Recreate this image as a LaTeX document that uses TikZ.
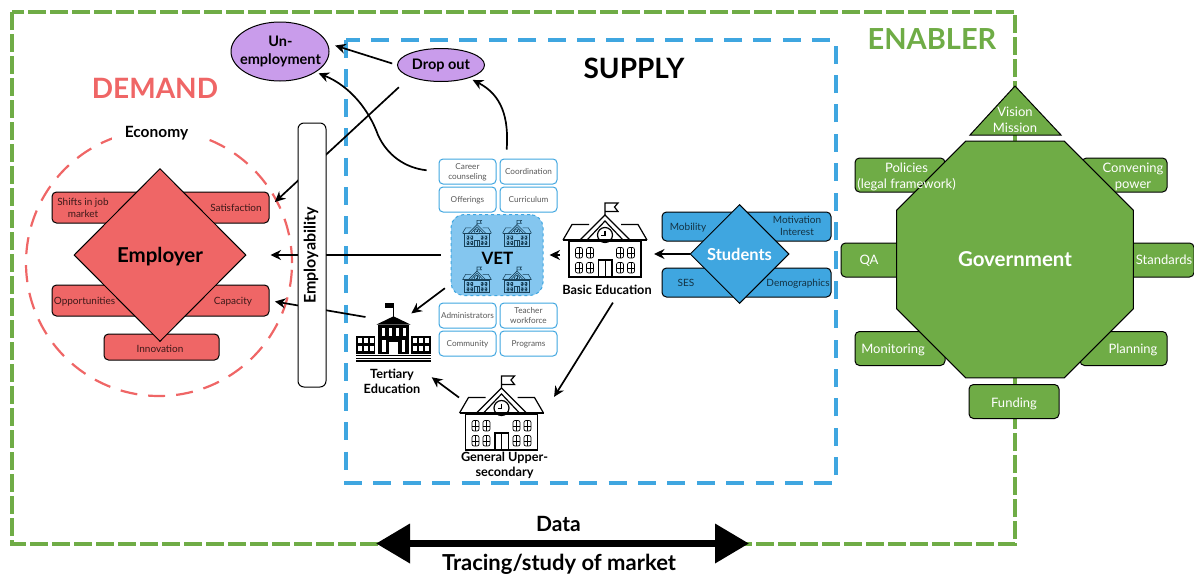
\documentclass[tikz,border=0pt]{standalone}
\usepackage{fontspec}
\setmainfont{Lato}
\usepackage{tikz}
\usetikzlibrary{arrows.meta}
\usetikzlibrary{positioning}
\usetikzlibrary{shapes.geometric}

\definecolor{enablegreen}{HTML}{6FAC46}
\definecolor{supplyblue}{HTML}{3FA6E0}
\definecolor{vetblue}{HTML}{84C6EF}
\definecolor{demandred}{HTML}{EF6666}
\definecolor{outcomepurple}{HTML}{C99CEB}
\newcommand{\fsize}[1]{\fontsize{#1}{#1}\selectfont\setlength{\baselineskip}{1.2\baselineskip}}

\tikzset{
    flow/.style={-{Stealth[length=10.5pt,width=10pt]},line width=1.7pt},
    bar/.style={rectangle,rounded corners=4.5pt,draw=black,line width=1pt,inner sep=0pt,outer sep=0pt},
    redbar/.style={bar,fill=demandred},
    bluebar/.style={bar,fill=supplyblue},
    greenbar/.style={bar,fill=enablegreen},
    redtext/.style={text=black!75!demandred,font=\fsize{10},align=center,text depth=0pt},
    bluetext/.style={text=black!70!supplyblue,font=\fsize{10},align=center,text depth=0pt},
    greentext/.style={text=white,font=\fsize{13},align=center,text depth=0pt},
    smallbox/.style={rectangle,rounded corners=4pt,draw=supplyblue,line width=1pt,fill=white,
        minimum width=57pt,minimum height=25pt,inner sep=0pt,text=black!65,font=\fsize{8.2},align=center,text depth=0pt},
    icon/.style={rectangle,inner sep=0pt,outer sep=0pt},
    schoollabel/.style={font=\bfseries\fsize{12.7},align=center,inner sep=0pt},
    outcome/.style={ellipse,draw=black,line width=1pt,fill=outcomepurple,inner sep=-14pt},
    window line/.style={line width=0.7pt},
    school/.pic={
        \draw[pic actions] (-36,0) rectangle (36,-36);
        \draw[pic actions] (-42,-37) -- (42,-37);
        \draw[pic actions] (-42,-37) -- (-33,-52.5) -- (-16,-52.5);
        \draw[pic actions] (42,-37) -- (33,-52.5) -- (16,-52.5);
        \draw[pic actions] (-25,-37) -- (0,-62) -- (25,-37);
        \draw[pic actions] (-18,-37) -- (0,-56) -- (18,-37);
        \draw[pic actions] (0,-42) circle (7.5);
        \draw[pic actions] (0,-46.5) -- (0,-41.5) -- (-4,-41.5);
        \draw[pic actions] (0,-62) -- (0,-74) -- (13,-74) -- (9.5,-70) -- (13,-65.5) -- (0,-65.5);
        \draw[pic actions] (-6.5,0) rectangle (7,-17);
        \draw[pic actions] (0.25,0) -- (0.25,-17);
        \foreach \wx in {-26,-15,15,26}{
            \foreach \wy in {-4,-19}{
                \draw[pic actions,window line,rounded corners=2] (\wx-3.5,\wy) rectangle (\wx+3.5,\wy-10.5);
                \draw[pic actions,window line] (\wx,\wy) -- (\wx,\wy-10.5) (\wx-3.5,\wy-5) -- (\wx+3.5,\wy-5);
            }
        }
    },
    campus/.pic={
        \fill (-15.7,-10) rectangle (15.3,-38.7);
        \fill (-17,-39.5) -- (0,-47.7) -- (17,-39.5) -- cycle;
        \draw[line width=1pt] (0,-47) -- (0,-61);
        \fill (-8.5,-61) -- (0,-61) -- (0,-56) -- (-8.5,-56) -- cycle;
        \fill (-37.3,-10) rectangle (-18.3,-28.3);
        \fill (17.7,-10) rectangle (37.3,-28.3);
        \foreach \barY/\barH in {-7.8/1.2,-4.8/1.4,-1.8/1.8}{
            \fill (-37.3,\barY) rectangle (37.3,\barY-\barH);
        }
        \foreach \wingx in {-35.5,-29.5,-23.5,19.5,25.5,31.5}{
            \foreach \wingy in {-13,-21}{
                \fill[white] (\wingx,\wingy) rectangle (\wingx+4,\wingy-5);
            }
        }
        \foreach \winx in {-11.5,-4.5,2.5,9.5}{
            \fill[white] (\winx,-28) rectangle (\winx+3,-36.5);
        }
        \fill[white] (-4.5,-10) rectangle (4.5,-22);
        \fill[white] (-11.5,-12) rectangle (-8,-24);
        \fill[white] (8,-12) rectangle (11.5,-24);
    }
}

\begin{document}
\begin{tikzpicture}[x=1pt,y=-1pt]
    \useasboundingbox (0,0) rectangle (1194,576);

    \draw[enablegreen,line width=3.4pt,dash pattern=on 18pt off 4pt] (12,12) rectangle (1015,544);
    \draw[supplyblue,line width=3.4pt,dash pattern=on 18pt off 11.4pt] (346,40) rectangle (836,483);

    \node[text=demandred,font=\bfseries\fsize{28}] (demand) at (155,88) {DEMAND};
    \node[font=\bfseries\fsize{28}] (supply) at (634,68) {SUPPLY};
    \node[text=enablegreen,font=\bfseries\fsize{29}] (enabler) at (932,39) {ENABLER};

    % demand side
    \node[circle,draw=demandred,line width=2.2pt,dash pattern=on 17pt off 11pt,minimum size=266pt,inner sep=0pt] (economy) at (159,263) {};
    \node[fill=white,inner xsep=13pt,inner ysep=2pt,font=\bfseries\fsize{15.5}] (economylabel) at (156.5,133) {Economy};
    \node[redbar,minimum width=217pt,minimum height=31pt] (redtop) at (160.5,207.5) {};
    \node[redbar,minimum width=217pt,minimum height=31pt] (redbottom) at (160.5,300.5) {};
    \node[redbar,minimum width=115pt,minimum height=26pt] (innovation) at (161.5,347) {};
    \node[diamond,draw=black,line width=1pt,fill=demandred,minimum width=172pt,minimum height=173pt,inner sep=0pt,text depth=0pt,font=\bfseries\fsize{20.5}] (employer) at (160,255) {Employer};
    \node[redtext] (shifts) at (83,208) {Shifts in job\\market};
    \node[redtext] (satisfaction) at (236,208) {Satisfaction};
    \node[redtext] (opportunities) at (84.5,301) {Opportunities};
    \node[redtext] (capacity) at (233,301) {Capacity};
    \node[redtext] at (160,349) {Innovation};

    % vet and its boxes
    \node[rectangle,rounded corners=13pt,draw=supplyblue,dashed,line width=1pt,fill=vetblue,minimum width=92pt,minimum height=81pt,inner sep=0pt] (vet) at (497,255) {};
    \foreach \col in {477,517}{
        \foreach \row in {246,292.5}{
            \pic[draw=black!60!supplyblue,line width=0.55pt,window line/.style={line width=0.3pt},scale=0.345] at (\col,\row) {school};
        }
    }
    \node[font=\bfseries\fsize{17}] (vetlabel) at (497.5,258) {VET};
    \foreach \name/\xpos/\ypos/\txt in {
        career/467.5/171.5/{Career\\counseling},
        coord/528.5/171.5/{Coordination},
        offerings/467.5/199.5/{Offerings},
        curriculum/528.5/199.5/{Curriculum},
        admin/467.5/315.5/{Administrators},
        teacher/528.5/315.5/{Teacher\\workforce},
        community/467.5/343.5/{Community},
        programs/528.5/343.5/{Programs}}{
        \node[smallbox] (\name) at (\xpos,\ypos) {\txt};
    }

    % the schools
    \node[icon,minimum width=84pt,minimum height=74pt] (basic) at (605,240) {};
    \pic[draw=black,line width=1.2pt] at (605,277) {school};
    \node[schoollabel] (basiclabel) at (607,290) {Basic Education};
    \node[icon,minimum width=85pt,minimum height=74pt] (general) at (501.5,413) {};
    \pic[draw=black,line width=1.2pt] at (501.5,450) {school};
    \node[schoollabel] (generallabel) at (504.5,465) {General Upper-\\secondary};
    \node[icon,minimum width=75pt,minimum height=47pt] (tertiary) at (393.5,340.5) {};
    \pic at (393.5,364) {campus};
    \node[schoollabel] (tertiarylabel) at (392,381.5) {Tertiary\\Education};

    % students
    \node[bluebar,minimum width=169pt,minimum height=29pt] (bluetop) at (746.5,226.5) {};
    \node[bluebar,minimum width=169pt,minimum height=29pt] (bluebottom) at (746.5,282.5) {};
    \node[diamond,draw=black,line width=1pt,fill=supplyblue,text=white,minimum width=99pt,minimum height=99pt,inner sep=0pt,font=\bfseries\fsize{16.5}] (students) at (739.5,254) {Students};
    \node[bluetext] (mobility) at (688,226.5) {Mobility};
    \node[bluetext] (motivation) at (797,226) {Motivation\\Interest};
    \node[bluetext] (ses) at (686,283) {SES};
    \node[bluetext] (demographics) at (798,283) {Demographics};

    % outcomes
    \node[outcome,minimum width=98pt,minimum height=59pt] (unemployment) at (280,51.5) {};
    \node[align=center,font=\bfseries\fsize{14.5}] at (280.5,51.5) {Un-\\employment};
    \node[outcome,minimum width=87pt,minimum height=33pt] (dropout) at (441,65) {};
    \node[font=\bfseries\fsize{14.5}] at (441,65) {Drop out};

    \draw[flow,shorten <=5pt,shorten >=8pt] (dropout.west) -- (unemployment.10);
    \draw[flow,shorten <=12pt,shorten >=3pt] (career.west) .. controls (405,168) and (387,155) .. (378,135) .. controls (369,110) and (350,86) .. (unemployment.-30);
    \draw[flow,shorten <=9pt,shorten >=4pt] (coord.150) .. controls (509,118) and (502,95) .. (dropout.-25);
    \draw[flow,shorten <=15pt,shorten >=8pt] (dropout.south west) -- (redtop.east);
    \draw[flow,shorten <=10pt,shorten >=24pt] (vet.west) -- (employer.east);
    \draw[flow,shorten >=6pt] (tertiary.140) -- (redbottom.east);
    \draw[flow,shorten <=7pt,shorten >=6pt] (vet.212) -- (tertiary.61);
    \draw[flow,shorten <=3pt,shorten >=6pt] (basic.west |- vet) -- (vet.east);
    \draw[flow,shorten >=7pt] (students.west) -- (students.west -| basic.east);
    \draw[flow,shorten <=9pt,shorten >=19pt] (basiclabel.335) -- (general.east);
    \draw[flow,shorten >=14pt] (general.160) -- (tertiarylabel.north east);

    \node[rectangle,rounded corners=6pt,draw=black,line width=1pt,fill=white,minimum width=28pt,minimum height=264pt,inner sep=0pt] (employability) at (312,255) {};
    \node[rotate=90,font=\bfseries\fsize{16}] (employabilitylabel) at (311,255.5) {Employability};

    % government
    \node[greenbar,minimum width=90pt,minimum height=34pt] (policies) at (900,175) {};
    \node[greenbar,minimum width=85pt,minimum height=34pt] (convening) at (1124.5,175) {};
    \node[greenbar,minimum width=70pt,minimum height=34pt] (qa) at (876,260) {};
    \node[greenbar,minimum width=70pt,minimum height=34pt] (standards) at (1159,260) {};
    \node[greenbar,minimum width=90pt,minimum height=34pt] (monitoring) at (900,348.5) {};
    \node[greenbar,minimum width=87pt,minimum height=34pt] (planning) at (1123.5,348.5) {};
    \node[greenbar,minimum width=90pt,minimum height=34pt] (funding) at (1014,401.5) {};
    \draw[draw=black,line width=1pt,fill=enablegreen] (1015,86) -- (1061,135) -- (970,135) -- cycle;
    \node[regular polygon,regular polygon sides=8,draw=black,line width=1pt,fill=enablegreen,text=white,minimum size=256.5pt,inner sep=0pt,text depth=0pt,font=\bfseries\fsize{20.5}] (government) at (1015,259.5) {Government};
    \node[greentext] (vision) at (1015,120) {Vision\\Mission};
    \node[greentext] at (906.5,176) {Policies\\(legal framework)};
    \node[greentext] at (1133,176) {Convening\\power};
    \node[greentext] at (869,260) {QA};
    \node[greentext] at (1164,260) {Standards};
    \node[greentext] at (893,349) {Monitoring};
    \node[greentext] at (1133,349) {Planning};
    \node[greentext] at (1014,403) {Funding};

    % data arrow
    \coordinate (dataleft) at (376,543.5);
    \coordinate (dataright) at (749,543.5);
    \draw[{Triangle[length=34pt,width=38pt]}-{Triangle[length=34pt,width=38pt]},line width=7pt] (dataleft) -- (dataright);
    \node[font=\bfseries\fsize{21}] (data) at (558.5,524) {Data};
    \node[font=\bfseries\fsize{22}] (tracing) at (559,564.5) {Tracing/study of market};
\end{tikzpicture}
\end{document}
